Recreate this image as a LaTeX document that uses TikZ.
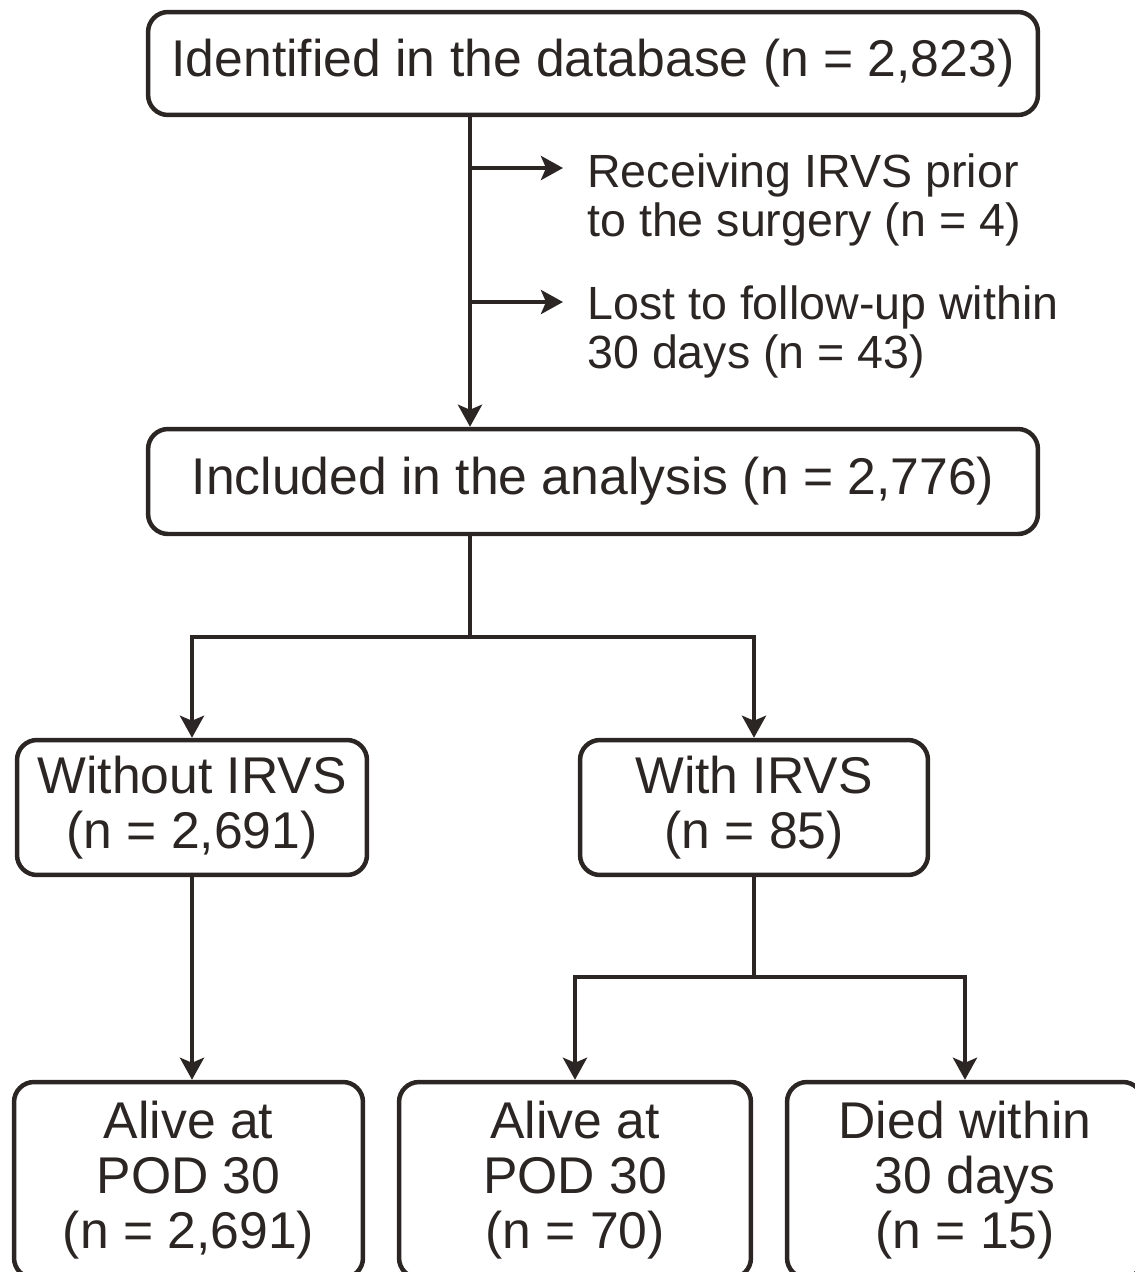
\documentclass[tikz,border=0pt]{standalone}
\usepackage{fontspec}
\setmainfont{Liberation Sans}
\usetikzlibrary{arrows.meta}
\definecolor{ink}{HTML}{2B2624}
\tikzset{
  box/.style={draw=ink, line width=0.09cm, rounded corners=0.4cm, inner sep=0pt,
    align=center, text=ink, font=\fontsize{29.4}{31.3}\selectfont},
  side/.style={anchor=north west, inner sep=0pt, align=left, text=ink,
    font=\fontsize{26.5}{28.35}\selectfont},
  conn/.style={draw=ink, line width=0.09cm},
  arr/.style={conn, -{Stealth[length=0.44cm, width=0.48cm, inset=0.1cm]}}
}
\begin{document}
\begin{tikzpicture}[x=0.02cm, y=-0.02cm]
        \useasboundingbox (0, 0) rectangle (1134, 1272);
        \node[box, minimum width=17.8cm, minimum height=2.06cm] (db) at (593, 63.5) {Identified in the database (n = 2,823)};
        \node[box, minimum width=17.8cm, minimum height=2.1cm] (incl) at (593, 481.5) {Included in the analysis (n = 2,776)};
        \node[side] (rcv) at (587, 153) {Receiving IRVS prior\\to the surgery (n = 4)};
        \node[side] (lost) at (587, 285) {Lost to follow-up within\\30 days (n = 43)};
        \node[box, minimum width=7cm, minimum height=2.7cm] (wo) at (192, 807.5) {Without IRVS\\(n = 2,691)};
        \node[box, minimum width=6.96cm, minimum height=2.7cm] (w) at (754, 807.5) {With IRVS\\(n = 85)};
        \node[box, minimum width=6.98cm, minimum height=3.92cm] (alivewo) at (188.5, 1180) {Alive at\\POD 30\\(n = 2,691)};
        \node[box, minimum width=7.04cm, minimum height=3.92cm] (alivew) at (575, 1180) {Alive at\\POD 30\\(n = 70)};
        \node[box, minimum width=7.12cm, minimum height=3.92cm] (died) at (965, 1180) {Died within\\30 days\\(n = 15)};

        \coordinate (trunk) at (470, 0);
        \coordinate (br1) at (470, 168);
        \coordinate (br2) at (470, 302);
        \coordinate (split) at (470, 637);
        \coordinate (splitw) at (754, 977);

        \draw[arr] (db.south -| trunk) -- (incl.north -| trunk);
        \draw[arr, shorten >=0.48cm] (br1) -- (br1 -| rcv.west);
        \draw[arr, shorten >=0.48cm] (br2) -- (br2 -| lost.west);
        \draw[conn] (incl.south -| trunk) -- (split);
        \draw[arr] (split) -| (wo.north);
        \draw[arr] (split) -| (w.north);
        \draw[arr] (wo.south) -- (wo.south |- alivewo.north);
        \draw[conn] (w.south) -- (splitw);
        \draw[arr] (splitw) -| (alivew.north);
        \draw[arr] (splitw) -| (died.north);

    \end{tikzpicture}
\end{document}
